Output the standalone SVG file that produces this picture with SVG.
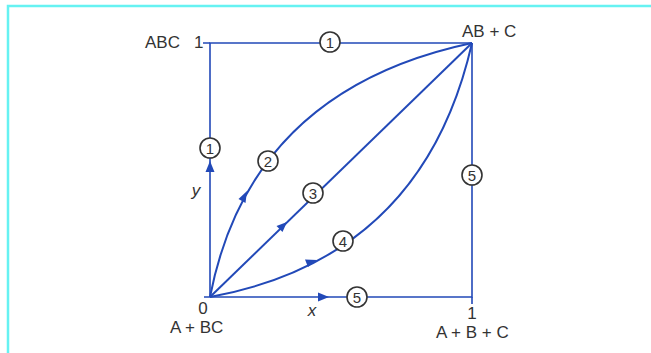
<svg xmlns="http://www.w3.org/2000/svg" width="651" height="353" viewBox="0 0 651 353">
<style>
.ln{fill:none;stroke:#2249b8;stroke-width:2}
.ax{fill:none;stroke:#2249b8;stroke-width:1.6}
.ah{fill:#2249b8}
.lb{fill:#fff;stroke:#333;stroke-width:1.6}
.n{font-family:"Liberation Sans",Arial,sans-serif;font-size:15px;fill:#333;text-anchor:middle}
.t{font-family:"Liberation Sans",Arial,sans-serif;font-size:17px;fill:#333}
.i{font-style:italic}
</style>
<rect width="651" height="353" fill="#fff"/>
<path d="M8,353 V6 H651" fill="none" stroke="#66f2f2" stroke-width="2.5"/>
<g id="connectors">
<path id="path1" class="ax" d="M210,297 V43 H472"/>
<path id="path5" class="ax" d="M210,297 H472 V43"/>
<path id="path2" class="ln" d="M210,297 Q250,90 472,43"/>
<path id="path3" class="ln" d="M210,297 L472,43"/>
<path id="path4" class="ln" d="M210,297 Q423,258 472,43"/>
<path d="M203,43 H210 M204,297 H210 M472,297 V304" class="ax"/>
<path class="ah" d="M210,161 L214.5,172 L205.5,172 Z"/>
<path class="ah" d="M329,297 L318,301.5 L318,292.5 Z"/>
<path class="ah" d="M247,191 L245.5,203 L238.5,199 Z"/>
<path class="ah" d="M287,222 L282.5,232 L276.5,226 Z"/>
<path class="ah" d="M317,260 L308,267 L305,259.5 Z"/>
</g>
<g id="label1-top"><circle class="lb" cx="330" cy="42" r="10"/><text class="n" x="330" y="47.5">1</text></g>
<g id="label1-left"><circle class="lb" cx="210" cy="148" r="10"/><text class="n" x="210" y="153.5">1</text></g>
<g id="label2"><circle class="lb" cx="268" cy="161" r="10"/><text class="n" x="268" y="166.5">2</text></g>
<g id="label3"><circle class="lb" cx="313" cy="193" r="10"/><text class="n" x="313" y="198.5">3</text></g>
<g id="label4"><circle class="lb" cx="343" cy="241" r="10"/><text class="n" x="343" y="246.5">4</text></g>
<g id="label5-right"><circle class="lb" cx="472" cy="175" r="10"/><text class="n" x="472" y="180.5">5</text></g>
<g id="label5-bottom"><circle class="lb" cx="357" cy="297" r="10"/><text class="n" x="357" y="302.5">5</text></g>
<g id="corner-abc"><text class="t" x="145" y="48">ABC</text><text class="t" x="194" y="48">1</text></g>
<g id="corner-abc2"><text class="t" x="462" y="37">AB + C</text></g>
<g id="corner-origin"><text class="t" x="203" y="314" text-anchor="middle">0</text><text class="t" x="170" y="333">A + BC</text></g>
<g id="corner-abc3"><text class="t" x="472" y="319" text-anchor="middle">1</text><text class="t" x="436" y="338">A + B + C</text></g>
<g id="axis-x"><text class="t i" x="312" y="316" text-anchor="middle">x</text></g>
<g id="axis-y"><text class="t i" x="196" y="196" text-anchor="middle">y</text></g>
</svg>
